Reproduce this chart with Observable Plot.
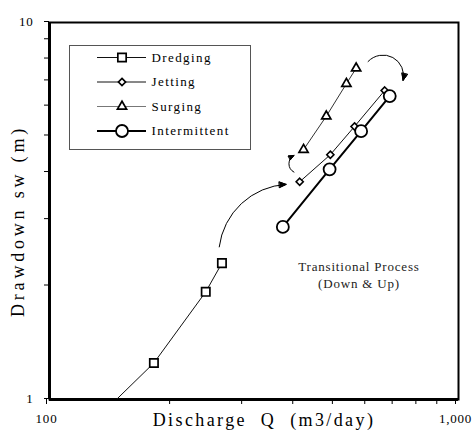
<!DOCTYPE html>
<html>
<head>
<meta charset="utf-8">
<script src="https://cdn.jsdelivr.net/npm/d3@7"></script>
<script src="https://cdn.jsdelivr.net/npm/@observablehq/plot@0.6"></script>
<style>
  html, body { margin: 0; padding: 0; background: #fff; }
  #wrap { position: relative; width: 474px; height: 432px; overflow: hidden; }
  #wrap svg { position: absolute; left: 0; top: 0; }
</style>
</head>
<body>
<div id="wrap"></div>
<script>
// ---- Data ----
const seriesNames = ["Dredging", "Jetting", "Surging", "Intermittent"];

const dredgingQ = [125, 180, 241, 264];
const dredgingS = [0.85, 1.25, 1.93, 2.30];

const jettingQ = [409, 486, 557, 660];
const jettingS = [3.78, 4.46, 5.30, 6.60];

const surgingQ = [418, 475, 532, 562];
const surgingS = [4.60, 5.64, 6.88, 7.56];

const intermittentQ = [372, 484, 578, 679];
const intermittentS = [2.87, 4.08, 5.15, 6.38];

const xTicks = [100, 200, 300, 400, 500, 600, 700, 800, 900, 1000];
const xTickLabels = { 100: "100", 1000: "1,000" };
const yTicks = [1, 2, 3, 4, 5, 6, 7, 8, 9, 10];
const yTickLabels = { 1: "1", 10: "10" };

const xTitle = "Discharge Q (m3/day)";
const yTitle = "Drawdown sw (m)";

// curved annotation arrows (data units)
const arrowFromQ = [260, 396, 601];
const arrowFromS = [2.54, 4.01, 7.88];
const arrowToQ = [379, 396, 732];
const arrowToS = [3.72, 4.44, 7.02];
const arrowBend = [40, 62, 75];

const noteText = "Transitional Process\n(Down & Up)";
const noteQ = 571;
const noteS = 2.15;

// ---- Build tables ----
const rows = (name, Q, S) => Q.map((q, i) => ({ series: name, q, s: S[i] }));
const dredging = rows(seriesNames[0], dredgingQ, dredgingS);
const jetting = rows(seriesNames[1], jettingQ, jettingS);
const surging = rows(seriesNames[2], surgingQ, surgingS);
const intermittent = rows(seriesNames[3], intermittentQ, intermittentS);
const arrows = arrowFromQ.map((q, i) => ({ q1: q, s1: arrowFromS[i], q2: arrowToQ[i], s2: arrowToS[i] }));

const FONT = "'Liberation Serif', 'DejaVu Serif', serif";

const chart = Plot.plot({
  width: 474,
  height: 432,
  marginLeft: 49,
  marginRight: 16,
  marginTop: 22,
  marginBottom: 33,
  style: { fontFamily: FONT, fontSize: "13px", background: "white", color: "#000" },
  x: { type: "log", domain: [100, 1000] },
  y: { type: "log", domain: [1, 10] },
  marks: [
    Plot.axisX({ ticks: xTicks, tickFormat: d => xTickLabels[d] ?? "", tickSize: 5, tickPadding: 9, dx: -3, label: null, strokeWidth: 1 }),
    Plot.axisY({ ticks: yTicks, tickFormat: d => yTickLabels[d] ?? "", tickSize: 5, tickPadding: 11, dy: -1, label: null, strokeWidth: 1 }),
    Plot.frame({ stroke: "#000", strokeWidth: 2 }),
    Plot.ruleX([100], { stroke: "#000", strokeWidth: 3 }),
    Plot.ruleY([1], { stroke: "#000", strokeWidth: 3 }),

    Plot.line(dredging, { x: "q", y: "s", stroke: "#111", strokeWidth: 1, clip: true }),
    Plot.line(surging, { x: "q", y: "s", stroke: "#333", strokeWidth: 1, clip: true }),
    Plot.line(jetting, { x: "q", y: "s", stroke: "#111", strokeWidth: 1, clip: true }),
    Plot.dot(dredging, { x: "q", y: "s", symbol: "square", r: 4.7, stroke: "#000", strokeWidth: 1.7, fill: "white", clip: true }),
    Plot.dot(surging, { x: "q", y: "s", symbol: "triangle", r: 3.4, stroke: "#000", strokeWidth: 1.7, fill: "white", clip: true }),
    Plot.dot(jetting, { x: "q", y: "s", symbol: "diamond2", r: 3.2, stroke: "#000", strokeWidth: 1.6, fill: "white", clip: true }),
    Plot.line(intermittent, { x: "q", y: "s", stroke: "#000", strokeWidth: 2, clip: true }),
    Plot.dot(intermittent, { x: "q", y: "s", symbol: "circle", r: 6, stroke: "#000", strokeWidth: 1.8, fill: "white", clip: true }),

    ...arrows.map((a, i) => Plot.arrow([a], { x1: "q1", y1: "s1", x2: "q2", y2: "s2", bend: arrowBend[i], stroke: "#000", strokeWidth: 1, headLength: 11, headAngle: 45 })),

    Plot.text([noteText], { x: () => noteQ, y: () => noteS, fontSize: 13, lineHeight: 1.3, fill: "#222" }),
    Plot.text([xTitle], { frameAnchor: "bottom", textAnchor: "middle", lineAnchor: "middle", dy: 21, dx: 10, fontSize: 18, fill: "#000" }),
    Plot.text([yTitle], { frameAnchor: "left", textAnchor: "middle", lineAnchor: "middle", rotate: -90, dx: -31, dy: 10, fontSize: 18, fill: "#000" })
  ]
});

// filled arrowheads
d3.select(chart).selectAll('g[aria-label="arrow"] path').each(function () {
  const d = this.getAttribute("d");
  const k = d ? d.lastIndexOf("M") : -1;
  if (k > 0) {
    const p = document.createElementNS("http://www.w3.org/2000/svg", "path");
    p.setAttribute("d", d.slice(k) + "Z");
    p.setAttribute("fill", "#000");
    p.setAttribute("stroke", "#000");
    p.setAttribute("stroke-linejoin", "miter");
    this.parentNode.appendChild(p);
  }
});

// letter spacing for texts
d3.select(chart).selectAll("text").each(function () {
  const t = this.textContent;
  if (t === xTitle) { this.setAttribute("letter-spacing", "2.4"); this.setAttribute("word-spacing", "7"); }
  else if (t === yTitle) { this.setAttribute("letter-spacing", "3.8"); }
  else if (/^[0-9,]+$/.test(t)) { this.setAttribute("letter-spacing", "0.8"); }
});
d3.select(chart).selectAll("tspan").attr("letter-spacing", "0.8");

document.getElementById("wrap").appendChild(chart);

// ---- Legend (inside the plot, top left) ----
const legendY0 = 57.5, legendStep = 24.5;
const legendSymbols = [d3.symbolSquare, d3.symbolDiamond2, d3.symbolTriangle, d3.symbolCircle];
const legendR = [4.7, 3.2, 3.4, 6];
const legendLineW = [1, 1, 1, 2];
const legendLineC = ["#111", "#111", "#777", "#000"];
const leg = d3.create("svg").attr("width", 474).attr("height", 432)
  .style("font-family", FONT).style("font-size", "13px");
leg.append("rect").attr("x", 69.5).attr("y", 45.5).attr("width", 181).attr("height", 104)
  .attr("fill", "white").attr("stroke", "#555").attr("stroke-width", 1);
seriesNames.forEach((name, i) => {
  const y = legendY0 + i * legendStep;
  leg.append("line").attr("x1", 97).attr("x2", 146).attr("y1", y).attr("y2", y)
    .attr("stroke", legendLineC[i]).attr("stroke-width", legendLineW[i]);
  leg.append("path").attr("transform", `translate(122,${y})`)
    .attr("d", d3.symbol(legendSymbols[i], Math.PI * legendR[i] * legendR[i])())
    .attr("fill", "white").attr("stroke", "#000").attr("stroke-width", i === 3 ? 1.8 : 1.7);
  leg.append("text").attr("x", 151.5).attr("y", y).attr("dy", "0.32em")
    .attr("letter-spacing", "1.4").attr("fill", "#000").text(name);
});
document.getElementById("wrap").appendChild(leg.node());
</script>
</body>
</html>
